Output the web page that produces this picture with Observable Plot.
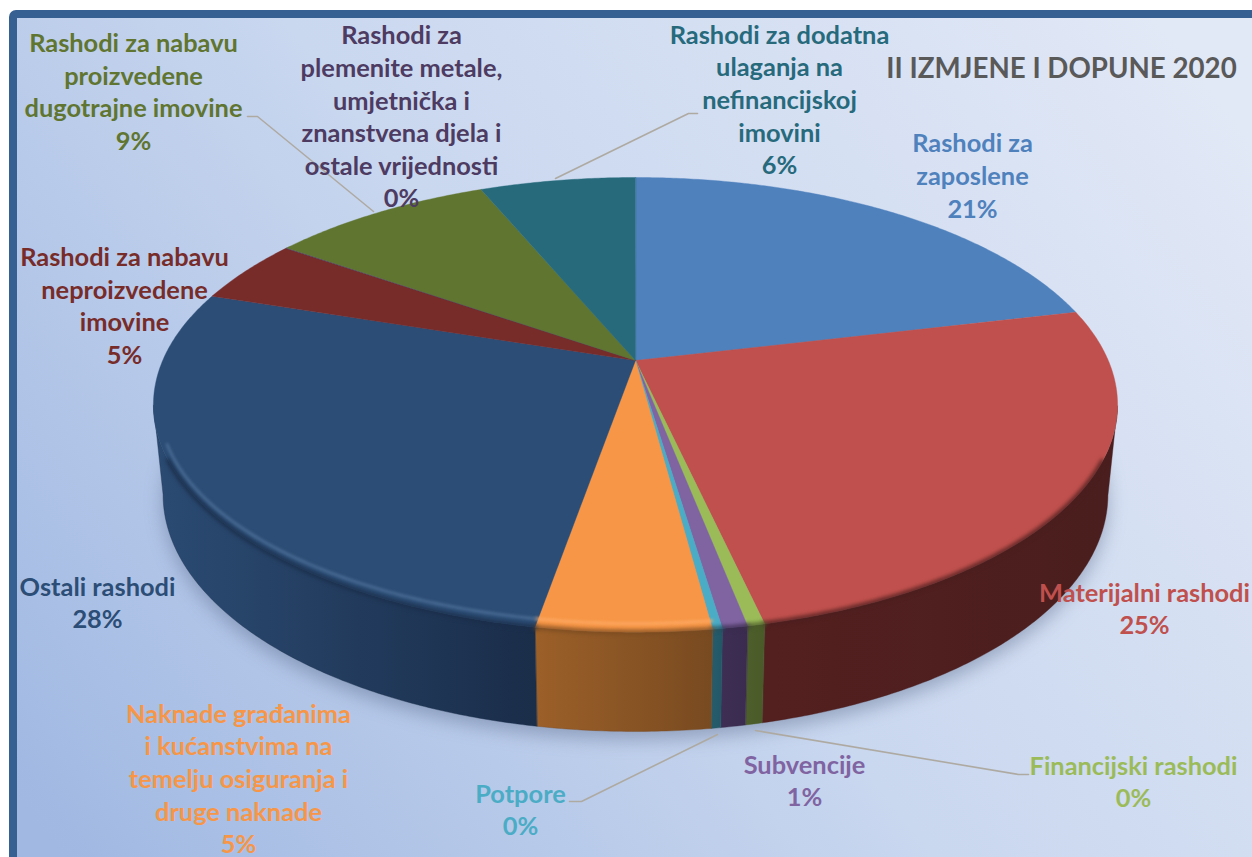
<!DOCTYPE html>
<html>
<head>
<meta charset="utf-8">
<script src="https://cdn.jsdelivr.net/npm/d3@7"></script>
<script src="https://cdn.jsdelivr.net/npm/@observablehq/plot@0.6"></script>
<style>
html,body{margin:0;padding:0;background:#fff;overflow:hidden}
svg{display:block}
</style>
</head>
<body>
<div id="chart"></div>
<script>
// ---- data (clockwise from 12 o'clock) ----
const categories = [
  "Rashodi za\nzaposlene",
  "Materijalni rashodi",
  "Financijski rashodi",
  "Subvencije",
  "Potpore",
  "Naknade građanima\ni kućanstvima na\ntemelju osiguranja i\ndruge naknade",
  "Ostali rashodi",
  "Rashodi za nabavu\nneproizvedene\nimovine",
  "Rashodi za\nplemenite metale,\numjetnička i\nznanstvena djela i\nostale vrijednosti",
  "Rashodi za nabavu\nproizvedene\ndugotrajne imovine",
  "Rashodi za dodatna\nulaganja na\nnefinancijskoj\nimovini"
];
const shares = [21.3, 25.15, 0.48, 0.7, 0.27, 4.85, 27.3, 4.6, 0.05, 9.0, 6.3];
const percentLabels = ["21%","25%","0%","1%","0%","5%","28%","5%","0%","9%","6%"];
const title = "II IZMJENE I DOPUNE 2020";

// ---- styles ----
const faceColors = ["#4f81bd","#c0504d","#9bbb59","#8064a2","#4bacc6","#f79646","#2c4d75","#772c2a","#4d3b62","#5f7530","#276a7c"];
const labelColors = ["#4f81bd","#c0504d","#9bbb59","#8064a2","#4bacc6","#f79646","#2c4d75","#772c2a","#4d3b62","#5f7530","#276a7c"];
const wallLeft  = ["#2f4d72","#541f1f","#4d5f2c","#3e2e55","#255d6d","#9c6029","#2b4b73","#4a1c1b","#30243f","#3c4a1e","#183f4c"];
const wallRight = ["#2f4d72","#4a1e1e","#4a5a28","#3a2b4f","#235766","#784a20","#1a2d49","#4a1c1b","#30243f","#3c4a1e","#183f4c"];

// ---- layout (label block centres and leader routes, in page pixels) ----
const labelX = [972,1144,1133,804,520,238,97,124,401,133,779];
const labelY = [174,607,780,779,808,777,601,304,115,90,98];
const leaderRoutes = [
  [[247,116],[257,116],[373,211]],
  [[697,113],[688,113],[555,178]],
  [[569,801],[581,801],[717,734]],
  [[1028,774],[1018,774],[755,730]]
];

// ---- perspective pie geometry ----
const cx = 635, apexY = 360, A = 472.8, B = 218.7, k = 0.195;
const topMidY = 404.3, topRy = 227.4, baseMidY = 494, baseRy = 237, baseScale = 0.98;
const total = d3.sum(shares);
const rim = (f) => {
  const t = 2 * Math.PI * f, u = Math.sin(t), v = Math.cos(t), w = 1 + k * v;
  return {x: cx + A * u / w, y: apexY - B * v / w, c: v};
};
const base = (f) => {
  const p = rim(f);
  return {x: cx + (p.x - cx) * baseScale, y: baseMidY + (p.y - topMidY) * baseRy / topRy};
};
const arcFractions = (a, b) => {
  const n = Math.max(2, Math.ceil((b - a) * 720));
  return d3.range(n + 1).map(i => a + (b - a) * i / n);
};
let acc = 0;
const slices = shares.map((s, i) => {
  const a = acc / total; acc += s; const b = acc / total;
  return {i, a, b, fr: arcFractions(a, b)};
});

const face = s => [{x: cx, y: apexY}, ...s.fr.map(rim)];
// the wall is only the part of the rim that faces the viewer, so its ends form the silhouette
const frontFractions = s => s.fr.filter(f => rim(f).c < -k);
const wall = s => {
  const fr = frontFractions(s);
  return [...fr.map(rim), ...fr.slice().reverse().map(base)];
};
// front part of the rim, pulled slightly inwards for the bevel
const frontArc = (s, sx, sy, limit) => s.fr.map(rim).filter(p => p.c < limit).map(p => ({
  x: cx + (p.x - cx) * sx,
  y: topMidY + (p.y - topMidY) * sy
}));

const defs = () => {
  const el = document.createElementNS("http://www.w3.org/2000/svg", "defs");
  const wallGrads = slices.map(s =>
    `<linearGradient id="wall${s.i}" x1="0" x2="1" y1="0" y2="0"><stop offset="0" stop-color="${wallLeft[s.i]}"/><stop offset="1" stop-color="${wallRight[s.i]}"/></linearGradient>`
  ).join("");
  el.innerHTML = `<linearGradient id="bg" gradientUnits="userSpaceOnUse" x1="1150" y1="10" x2="60" y2="857">
    <stop offset="0" stop-color="#e1e8f6"/><stop offset="0.5" stop-color="#c9d7ef"/><stop offset="1" stop-color="#a0b8e2"/></linearGradient>${wallGrads}`;
  return el;
};

const baseOutline = arcFractions(0, 1).map(base);
const highlightColors = {5: "#fdab66", 6: "#4d7099"};

const marks = [
  defs,
  Plot.rect([{x1: 13, y1: 14, x2: 1290, y2: 900}], {
    x1: "x1", y1: "y1", x2: "x2", y2: "y2",
    fill: "url(#bg)", stroke: "#376092", strokeWidth: 8, r: 3
  }),
  // soft ground shadow
  Plot.line(baseOutline, {
    x: "x", y: d => d.y + 8, curve: "linear-closed",
    fill: "#4f5f80", fillOpacity: 0.42, stroke: "none", imageFilter: "blur(9px)"
  }),
  // walls
  ...slices.filter(s => frontFractions(s).length > 1).map(s => Plot.line(wall(s), {
    x: "x", y: "y", curve: "linear-closed",
    fill: `url(#wall${s.i})`, stroke: wallRight[s.i], strokeWidth: 0.4
  })),
  // top faces
  ...slices.map(s => Plot.line(face(s), {
    x: "x", y: "y", curve: "linear-closed",
    fill: faceColors[s.i], stroke: faceColors[s.i], strokeWidth: 0.4
  })),
  // bevel: soft dark transition on the rim
  ...slices.filter(s => frontArc(s, 1, 1, -k - 0.22).length > 1).map(s => Plot.line(frontArc(s, 1, 1, -k - 0.22), {
    x: "x", y: "y", stroke: wallRight[s.i], strokeWidth: 4, imageFilter: "blur(2px)"
  })),
  // bevel highlight
  ...slices.filter(s => highlightColors[s.i]).map(s => Plot.line(frontArc(s, 0.988, 0.962, -k - 0.16), {
    x: "x", y: "y", stroke: highlightColors[s.i], strokeWidth: 2.4, imageFilter: "blur(1.6px)"
  })),
  // leaders
  ...leaderRoutes.map(route => Plot.line(route, {
    x: d => d[0], y: d => d[1], stroke: "#aeaaa2", strokeWidth: 1.6
  })),
  // labels
  Plot.text(categories.map((c, i) => ({c, i})), {
    x: d => labelX[d.i], y: d => labelY[d.i],
    text: d => d.c + "\n" + percentLabels[d.i],
    fill: d => labelColors[d.i],
    textAnchor: "middle", lineAnchor: "middle", lineHeight: 32.6 / 25.4,
    fontFamily: "Lato", fontWeight: 700, fontSize: 25.4
  }),
  Plot.text([title], {
    x: 1061, y: 68.5, text: d => d, fill: "#595959",
    textAnchor: "middle", lineAnchor: "middle",
    fontFamily: "Lato", fontWeight: 700, fontSize: 27.7
  })
];
const chart = Plot.plot({
  width: 1252, height: 857, margin: 0,
  x: {axis: null, domain: [0, 1252], range: [0, 1252]},
  y: {axis: null, domain: [0, 857], range: [0, 857]},
  style: {background: "#fff"},
  marks
});
document.getElementById("chart").appendChild(chart);
</script>
</body>
</html>
